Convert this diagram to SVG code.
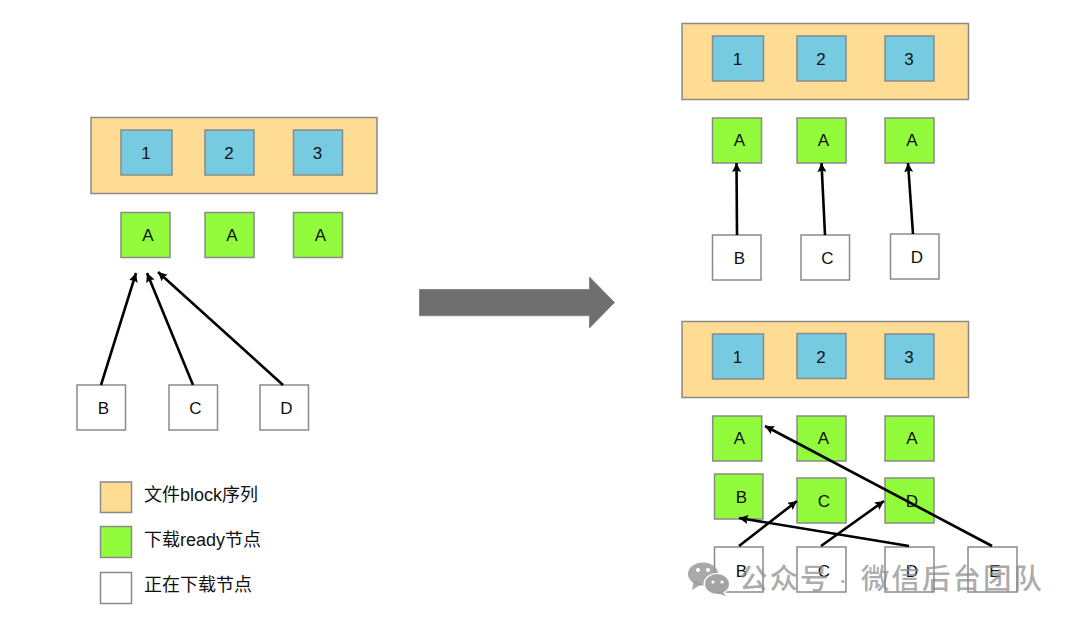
<svg xmlns="http://www.w3.org/2000/svg" width="1080" height="623" viewBox="0 0 1080 623">
<style>
text{font-family:"Liberation Sans","Noto Sans CJK SC",sans-serif;fill:#111}
.n text{font-size:17px;text-anchor:middle}
.n rect,.s{stroke:#8a8a8a;stroke-width:1.5}
.p{fill:#FFDC93}.b{fill:#76CBE0}.g{fill:#92FB3C}.w{fill:#fff}
.c line{stroke:#000;stroke-width:2.6;marker-end:url(#ah)}
.l{font-size:18px}
.wm{font-size:28.500px;letter-spacing:2px;fill:#8c8c8c;fill-opacity:.72;font-weight:500}
</style>
<defs><marker id="ah" markerUnits="userSpaceOnUse" markerWidth="11" markerHeight="10" refX="9" refY="4.500" orient="auto"><path d="M0 0L9 4.500L0 9L1.500 4.500Z" fill="#000"/></marker></defs>
<rect width="1080" height="623" fill="#fff"/>

<g id="left-block" class="n"><rect class="p" x="91" y="117.500" width="286" height="76"/></g>
<g id="left-1" class="n"><rect class="b" x="121" y="130" width="51" height="45"/><text x="146" y="159">1</text></g>
<g id="left-2" class="n"><rect class="b" x="205" y="130" width="49" height="45"/><text x="229" y="159">2</text></g>
<g id="left-3" class="n"><rect class="b" x="293.500" y="130" width="49" height="45"/><text x="317.500" y="159">3</text></g>
<g id="left-a1" class="n"><rect class="g" x="121" y="212.500" width="49" height="45"/><text x="148" y="241">A</text></g>
<g id="left-a2" class="n"><rect class="g" x="205" y="212.500" width="49" height="45"/><text x="232" y="241">A</text></g>
<g id="left-a3" class="n"><rect class="g" x="293.500" y="212.500" width="49" height="45"/><text x="320.500" y="241">A</text></g>
<g id="left-b" class="n"><rect class="w" x="77" y="385" width="48.500" height="45"/><text x="103.500" y="414">B</text></g>
<g id="left-c" class="n"><rect class="w" x="169" y="385" width="48.500" height="45"/><text x="195.500" y="414">C</text></g>
<g id="left-d" class="n"><rect class="w" x="260" y="385" width="48.500" height="45"/><text x="286.500" y="414">D</text></g>

<g id="legend-block"><rect class="p s" x="100.500" y="482" width="31" height="30.500"/><text class="l" x="144" y="501">文件block序列</text></g>
<g id="legend-ready"><rect class="g s" x="100.500" y="526.500" width="31" height="31"/><text class="l" x="144" y="546">下载ready节点</text></g>
<g id="legend-loading"><rect class="w s" x="100.500" y="572.500" width="31" height="31"/><text class="l" x="144" y="591">正在下载节点</text></g>

<g id="big-arrow"><polygon points="419.500,289.500 589.500,289.500 589.500,277 614.500,302.500 589.500,328 589.500,315.700 419.500,315.700" fill="#6f6f6f" stroke="#858585" stroke-width="1"/></g>

<g id="top-block" class="n"><rect class="p" x="682" y="23.500" width="286.500" height="76"/></g>
<g id="top-1" class="n"><rect class="b" x="712.500" y="36" width="51" height="45"/><text x="737.500" y="65">1</text></g>
<g id="top-2" class="n"><rect class="b" x="797" y="36" width="49" height="45"/><text x="821" y="65">2</text></g>
<g id="top-3" class="n"><rect class="b" x="885" y="36" width="49" height="45"/><text x="909" y="65">3</text></g>
<g id="top-a1" class="n"><rect class="g" x="712.500" y="118" width="49" height="45"/><text x="739.500" y="146">A</text></g>
<g id="top-a2" class="n"><rect class="g" x="797" y="118" width="49" height="45"/><text x="823.500" y="146">A</text></g>
<g id="top-a3" class="n"><rect class="g" x="885" y="118" width="49" height="45"/><text x="912" y="146">A</text></g>
<g id="top-b" class="n"><rect class="w" x="712.500" y="235" width="48.500" height="45"/><text x="739.500" y="264">B</text></g>
<g id="top-c" class="n"><rect class="w" x="801" y="235" width="48.500" height="45"/><text x="827.500" y="264">C</text></g>
<g id="top-d" class="n"><rect class="w" x="890.500" y="234" width="48.500" height="45"/><text x="917" y="263">D</text></g>

<g id="bottom-block" class="n"><rect class="p" x="682" y="321.500" width="286.500" height="76"/></g>
<g id="bottom-1" class="n"><rect class="b" x="712.500" y="334" width="51" height="45"/><text x="737.500" y="363">1</text></g>
<g id="bottom-2" class="n"><rect class="b" x="797" y="333.500" width="49" height="45"/><text x="821" y="362.500">2</text></g>
<g id="bottom-3" class="n"><rect class="b" x="885" y="334" width="49" height="45"/><text x="909" y="363">3</text></g>
<g id="bottom-a1" class="n"><rect class="g" x="712.700" y="416" width="49" height="45"/><text x="739.500" y="444">A</text></g>
<g id="bottom-a2" class="n"><rect class="g" x="797" y="416" width="49" height="45"/><text x="823.500" y="444">A</text></g>
<g id="bottom-a3" class="n"><rect class="g" x="885" y="416" width="49" height="45"/><text x="912" y="444">A</text></g>
<g id="bottom-gb" class="n"><rect class="g" x="714.500" y="474" width="48.500" height="45"/><text x="741.500" y="503">B</text></g>
<g id="bottom-gc" class="n"><rect class="g" x="797" y="478" width="49" height="45"/><text x="824" y="507">C</text></g>
<g id="bottom-gd" class="n"><rect class="g" x="885" y="478" width="49" height="45"/><text x="912" y="507">D</text></g>
<g id="bottom-b" class="n"><rect class="w" x="714.500" y="547" width="48.500" height="45"/><text x="741.500" y="576.500">B</text></g>
<g id="bottom-c" class="n"><rect class="w" x="797" y="547" width="49" height="45"/><text x="824" y="576.500">C</text></g>
<g id="bottom-d" class="n"><rect class="w" x="885" y="547" width="49" height="45"/><text x="912" y="576.500">D</text></g>
<g id="bottom-e" class="n"><rect class="w" x="968" y="547" width="49" height="45"/><text x="995" y="576.500">E</text></g>

<g id="connectors" class="c">
<line x1="101" y1="385" x2="136" y2="273"/>
<line x1="193" y1="385" x2="147" y2="273"/>
<line x1="283" y1="385" x2="158" y2="272"/>
<line x1="737" y1="235" x2="736.500" y2="163"/>
<line x1="825" y1="235" x2="821.500" y2="163"/>
<line x1="913" y1="234" x2="908" y2="163"/>
<line x1="739" y1="546" x2="797" y2="501"/>
<line x1="821" y1="546" x2="884" y2="501"/>
<line x1="909" y1="546" x2="739" y2="518"/>
<line x1="992" y1="546" x2="765" y2="426"/>
</g>

<g id="watermark">
<g fill="#9a9a9a" fill-opacity=".85">
<ellipse cx="703" cy="574" rx="15" ry="11.500"/><path d="M694 581L692 590L702 584Z"/>
</g>
<ellipse cx="717" cy="584" rx="13.500" ry="11" fill="#fff"/>
<g fill="#9a9a9a" fill-opacity=".9">
<ellipse cx="717" cy="584" rx="12" ry="10"/><path d="M722 591L726 596L716 593Z"/>
</g>
<g fill="#fff"><circle cx="698" cy="570" r="2"/><circle cx="708" cy="570" r="2"/><circle cx="713" cy="582" r="1.600"/><circle cx="722" cy="582" r="1.600"/></g>
<text class="wm" x="739" y="589">公众号</text>
<text class="wm" x="838" y="589">·</text>
<text class="wm" x="861" y="589">微信后台团队</text>
</g>
</svg>
